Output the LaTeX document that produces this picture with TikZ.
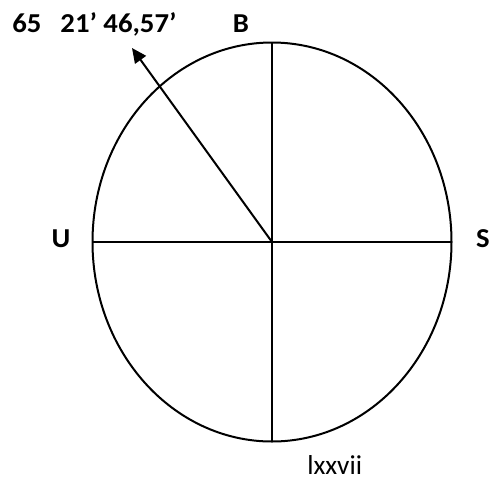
\documentclass[tikz,border=0pt]{standalone}
\usepackage{fontspec}
\setmainfont{Carlito}
\newfontfamily\widefont[FakeStretch=1.05]{Carlito}
\usetikzlibrary{arrows.meta}
\tikzset{
  dirlabel/.style={font=\widefont\bfseries\fontsize{20.5}{24}\selectfont,inner sep=0pt},
  pagelabel/.style={font=\fontsize{20.5}{24}\selectfont,inner sep=0pt},
  axis/.style={line width=1.5pt},
  arr/.style={-{Triangle[length=11pt,width=10pt]},line width=1.5pt}
}
\begin{document}
\begin{tikzpicture}[x=0.75pt,y=-0.75pt]
\path[use as bounding box] (0,0) rectangle (492,479);
\coordinate (o) at (272,242);
\coordinate (n) at (272,43);
\coordinate (s) at (272,442);
\coordinate (w) at (93,242);
\coordinate (e) at (452,242);
\coordinate (tip) at (132,48);
\draw[axis] (o) ellipse [x radius=179.5,y radius=199.5];
\draw[axis] (n) -- (s);
\draw[axis] (w) -- (e);
\draw[arr] (o) -- (tip);
\node[dirlabel,anchor=base west] (ang) at (12,32) {65\hspace{0.7em}21’ 46,57’};
\node[dirlabel,anchor=base] (b) at (241,32) {B};
\node[dirlabel] (u) at (61,239) {U};
\node[dirlabel] (se) at (483,239) {S};
\node[pagelabel,anchor=base west] (pg) at (307,474) {lxxvii};
\end{tikzpicture}
\end{document}
